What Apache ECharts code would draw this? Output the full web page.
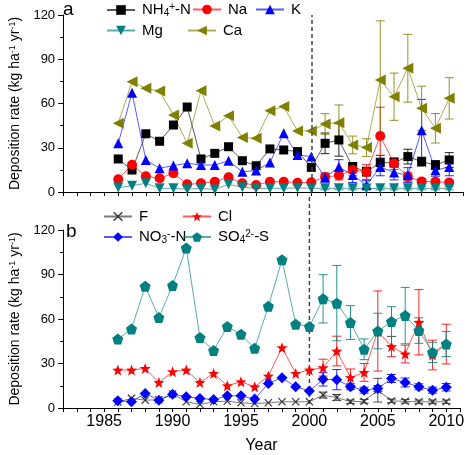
<!DOCTYPE html>
<html>
<head>
<meta charset="utf-8">
<script src="https://cdn.jsdelivr.net/npm/echarts@6/dist/echarts.min.js"></script>
<style>
  html, body { margin: 0; padding: 0; background: #fff; }
  #chart { width: 467px; height: 455px; }
</style>
</head>
<body>
<div id="chart"></div>
<script>
var years = [1986, 1987, 1988, 1989, 1990, 1991, 1992, 1993, 1994, 1995, 1996, 1997, 1998,
  1999, 2000, 2001, 2002, 2003, 2004, 2005, 2006, 2007, 2008, 2009, 2010];
var errYears = [2001, 2002, 2003, 2004, 2005, 2006, 2007, 2008, 2009, 2010];
var yTicks = [0, 30, 60, 90, 120];

// panel a
var nh4 = [22.4, 14.9, 39.5, 34.4, 45.4, 57.6, 22.4, 26.2, 30.7, 21.2, 17.8, 29.2, 28.5,
  27.4, 16.7, 33, 35.3, 17, 13.8, 19.9, 19.9, 24, 20.6, 18.3, 21.7];
var na = [8.7, 18.5, 10.7, 9.3, 12.7, 5.2, 5.9, 7, 10, 5.9, 4.7, 7, 7,
  6.3, 6.6, 10.2, 11.2, 15, 13.5, 38, 19.3, 10.4, 7.2, 7, 6.4];
var k = [33, 67.3, 21.7, 16.1, 17.9, 19.5, 18.3, 18.3, 21.2, 13.7, 14.5, 20, 39.8,
  25.1, 24, 9.8, 16.9, 11.5, 4.7, 17, 13.2, 11.5, 41.8, 14.7, 17];
var mg = [3, 4.3, 5.9, 2.5, 2.5, 1.8, 2.5, 1.7, 5.2, 3.2, 2.5, 2.5, 2.5,
  2.8, 2.5, 2.5, 2.5, 2.5, 2.3, 2.5, 2.5, 2.5, 2.5, 2.5, 2.5];
var ca = [46.6, 74.8, 70.3, 68.5, 52.2, 33, 68.7, 44.7, 51.7, 36.9, 36.4, 55.1, 57.9,
  41.4, 41.4, 46.1, 47, 31.9, 30.1, 76, 64.6, 83.9, 56.7, 43.2, 63.5];
var nh4Err = [7, 11, 3, 3, 5, 3, 5, 3, 3, 5];
var naErr = [2, 3, 4, 5, 19.5, 4, 3, 1.5, 1.5, 1.5];
var kErr = [3, 5, 5, 3, 6, 5, 5, 21, 4, 6];
var mgErr = [1, 1, 1, 1, 1, 1, 1, 1, 1, 1];
var caErr = [7, 12, 6, 6, 40, 16, 23, 15, 10, 14];

// panel b
var f = [4, 6.5, 5.3, 5.5, 9.5, 4.2, 2.4, 4.2, 4.6, 3.5, 3, 3.5, 4.2,
  4.2, 4.2, 8.7, 7.1, 4.2, 4.5, 12, 4.8, 4.5, 4.2, 4.2, 4.2];
var cl = [25.6, 25.6, 26.7, 17.2, 24.5, 25.6, 17.2, 23.3, 15, 17.7, 14.3, 21.5, 40.7,
  23.3, 25.6, 27.2, 38.4, 20.6, 24, 51.9, 41.4, 36.4, 57.8, 35.7, 43.1];
var no3 = [4.9, 4.2, 9.8, 5.3, 9.3, 7.6, 6.4, 5.7, 8.2, 8.2, 6, 16.6, 20.4,
  14.3, 11.4, 19.3, 19.1, 14.3, 12, 13.2, 19.9, 17.2, 14.3, 12, 14];
var so4 = [46.5, 53.3, 82, 61, 82.6, 107.8, 47.5, 38.7, 54.9, 49.7, 40.2, 68.6, 99.9,
  56.5, 54.9, 73.6, 70.7, 57.6, 39.6, 51.9, 58.3, 62.3, 52.2, 37.5, 43.1];
var fErr = [2, 2, 1.2, 1.2, 8, 1.2, 1.2, 1.2, 1.2, 1.2];
var clErr = [5.7, 10, 5.7, 6, 27, 6.8, 6, 22, 10, 13.4];
var no3Err = [4.5, 6.8, 2, 2, 2, 2.7, 3, 2, 2, 2.5];
var so4Err = [16.3, 25.4, 11.4, 7, 12, 10, 19, 8.6, 6.8, 8.4];

var FONT = 'Liberation Sans, Arial, sans-serif';

function pairs(vals) {
  return years.map(function(y, i) { return [y, vals[i]]; });
}
function errData(vals, errs) {
  return errYears.map(function(y, i) {
    var v = vals[years.indexOf(y)];
    return [y, v - errs[i], v + errs[i]];
  });
}

// symbol shapes
function starPath() {
  var pts = [];
  for (var i = 0; i < 10; i++) {
    var r = i % 2 === 0 ? 1 : 0.42;
    var a = -Math.PI / 2 + i * Math.PI / 5;
    pts.push((r * Math.cos(a)).toFixed(3) + ',' + (r * Math.sin(a)).toFixed(3));
  }
  return 'path://M' + pts.join(' L') + ' Z';
}
var STAR = starPath();
var PENTA = 'path://M0,-1 L0.951,-0.309 L0.588,0.809 L-0.588,0.809 L-0.951,-0.309 Z';
var CROSS = 'path://M0,0.1 L0.1,0 L0.5,0.4 L0.9,0 L1,0.1 L0.6,0.5 L1,0.9 L0.9,1 L0.5,0.6 L0.1,1 L0,0.9 L0.4,0.5 Z';

function lineSeries(name, vals, color, symbol, size, idx, rotate) {
  return {
    name: name,
    type: 'line',
    xAxisIndex: idx,
    yAxisIndex: idx,
    data: pairs(vals),
    symbol: symbol,
    symbolSize: size,
    symbolRotate: rotate || 0,
    showAllSymbol: true,
    itemStyle: { color: color, opacity: 1 },
    lineStyle: { color: color, width: 1, opacity: 0.65 },
    z: 3
  };
}

function errSeries(vals, errs, color, idx) {
  return {
    type: 'custom',
    xAxisIndex: idx,
    yAxisIndex: idx,
    data: errData(vals, errs),
    encode: { x: 0, y: [1, 2] },
    silent: true,
    z: 2,
    renderItem: function(params, api) {
      var lo = api.coord([api.value(0), api.value(1)]);
      var hi = api.coord([api.value(0), api.value(2)]);
      var w = 4.5;
      var st = { stroke: color, lineWidth: 1, opacity: 0.85 };
      return {
        type: 'group',
        children: [
          { type: 'line', shape: { x1: lo[0], y1: lo[1], x2: hi[0], y2: hi[1] }, style: st },
          { type: 'line', shape: { x1: lo[0] - w, y1: lo[1], x2: lo[0] + w, y2: lo[1] }, style: st },
          { type: 'line', shape: { x1: hi[0] - w, y1: hi[1], x2: hi[0] + w, y2: hi[1] }, style: st }
        ]
      };
    }
  };
}

var richLegend = {
  n: { fontSize: 15, fontFamily: FONT, color: '#000', verticalAlign: 'middle' },
  sub: { fontSize: 10, fontFamily: FONT, color: '#000', verticalAlign: 'bottom', padding: [6, 0, 0, 0] },
  sup: { fontSize: 10, fontFamily: FONT, color: '#000', verticalAlign: 'top', padding: [0, 0, 6, 0] }
};
var legendLabels = {
  'NH4+-N': '{n|NH}{sub|4}{sup|+}{n|-N}',
  'NO3--N': '{n|NO}{sub|3}{sup|-}{n|-N}',
  'SO42--S': '{n|SO}{sub|4}{sup|2-}{n|-S}'
};

function legendItem(name, left, cy) {
  return {
    data: [name],
    left: left,
    top: cy - 8,
    padding: 0,
    itemWidth: 28,
    itemHeight: 12,
    itemGap: 0,
    selectedMode: false,
    formatter: function(n) { return legendLabels[n] || '{n|' + n + '}'; },
    textStyle: { rich: richLegend, padding: [0, 0, 0, 2] }
  };
}

var yName = 'Deposition rate (kg ha{s|-1} yr{s|-1})';
var yNameStyle = {
  fontSize: 14, fontFamily: FONT, color: '#000',
  rich: {
    s: { fontSize: 9, fontFamily: FONT, color: '#000', verticalAlign: 'top', padding: [0, 0, 6, 0] }
  }
};

function xAxis(idx, showLabels) {
  return {
    type: 'value',
    gridIndex: idx,
    min: 1982,
    max: 2011,
    interval: 1,
    name: showLabels ? 'Year' : '',
    nameLocation: 'middle',
    nameGap: 30,
    nameTextStyle: { fontSize: 16, fontFamily: FONT, color: '#000' },
    axisLine: { onZero: false, lineStyle: { color: '#000', width: 1 } },
    axisTick: { show: true, length: 4, lineStyle: { color: '#000' } },
    axisLabel: {
      show: showLabels,
      margin: 6,
      fontSize: 16,
      fontFamily: FONT,
      color: '#000',
      formatter: function(v) { return v % 5 === 0 ? String(v) : ''; }
    },
    splitLine: { show: false }
  };
}

function yAxis(idx) {
  return {
    type: 'value',
    gridIndex: idx,
    min: yTicks[0],
    max: yTicks[yTicks.length - 1],
    interval: 30,
    name: yName,
    nameLocation: 'middle',
    nameGap: 40,
    nameTextStyle: yNameStyle,
    axisLine: { show: true, lineStyle: { color: '#000', width: 1 } },
    axisTick: { show: true, length: 5, lineStyle: { color: '#000' } },
    minorTick: { show: true, splitNumber: 2, length: 3, lineStyle: { color: '#000' } },
    axisLabel: { margin: 8, fontSize: 13, fontFamily: FONT, color: '#000' },
    splitLine: { show: false }
  };
}

var chart = echarts.init(document.getElementById('chart'), null, { renderer: 'canvas' });

var seriesA = [
  lineSeries('NH4+-N', nh4, '#000000', 'rect', 9, 0),
  lineSeries('Na', na, '#ff0000', 'circle', 10, 0),
  lineSeries('K', k, '#0000ff', 'triangle', 10, 0),
  lineSeries('Mg', mg, '#008080', 'triangle', 10, 0, 180),
  lineSeries('Ca', ca, '#808000', 'triangle', 11, 0, 90),
  errSeries(nh4, nh4Err, '#000000', 0),
  errSeries(na, naErr, '#ff0000', 0),
  errSeries(k, kErr, '#0000ff', 0),
  errSeries(mg, mgErr, '#008080', 0),
  errSeries(ca, caErr, '#808000', 0)
];
seriesA[0].markLine = {
  silent: true,
  symbol: 'none',
  label: { show: false },
  lineStyle: { color: '#444', width: 1.5, type: [4, 3] },
  data: [{ xAxis: 2000 }]
};

var seriesB = [
  lineSeries('F', f, '#333333', CROSS, 8, 1),
  lineSeries('Cl', cl, '#ff0000', STAR, 11, 1),
  lineSeries('NO3--N', no3, '#0000ff', 'diamond', 11, 1),
  lineSeries('SO42--S', so4, '#008080', PENTA, 11, 1),
  errSeries(f, fErr, '#333333', 1),
  errSeries(cl, clErr, '#ff0000', 1),
  errSeries(no3, no3Err, '#0000ff', 1),
  errSeries(so4, so4Err, '#008080', 1)
];

chart.setOption({
  animation: false,
  textStyle: { fontFamily: FONT },
  grid: [
    { left: 62, top: 15, width: 401, height: 177 },
    { left: 62, top: 230, width: 401, height: 180 }
  ],
  xAxis: [xAxis(0, false), xAxis(1, true)],
  yAxis: [yAxis(0), yAxis(1)],
  legend: [
    legendItem('NH4+-N', 106, 10),
    legendItem('Na', 192, 10),
    legendItem('K', 255, 10),
    legendItem('Mg', 106, 31),
    legendItem('Ca', 187, 31),
    legendItem('F', 103, 217),
    legendItem('Cl', 182, 217),
    legendItem('NO3--N', 103, 237),
    legendItem('SO42--S', 182, 237)
  ],
  graphic: [
    { type: 'text', left: 63, top: 0, style: { text: 'a', font: '19px ' + FONT, fill: '#000' } },
    { type: 'text', left: 66, top: 222, style: { text: 'b', font: '19px ' + FONT, fill: '#000' } }
  ],
  series: seriesA.concat(seriesB)
});

// dashed 2000 line in panel b starts just under panel a's axis
var pa = chart.convertToPixel({ xAxisIndex: 0, yAxisIndex: 0 }, [2000, 0]);
var pb = chart.convertToPixel({ xAxisIndex: 1, yAxisIndex: 1 }, [2000, 0]);
chart.setOption({
  graphic: [
    { type: 'text', left: 63, top: 0, style: { text: 'a', font: '19px ' + FONT, fill: '#000' } },
    { type: 'text', left: 66, top: 222, style: { text: 'b', font: '19px ' + FONT, fill: '#000' } },
    {
      type: 'line', silent: true, z: 1,
      shape: { x1: pb[0], y1: pa[1] + 5, x2: pb[0], y2: pb[1] },
      style: { stroke: '#444', lineWidth: 1.5, lineDash: [4, 3] }
    }
  ]
});
window.addEventListener('resize', function() { chart.resize(); });
</script>
</body>
</html>
